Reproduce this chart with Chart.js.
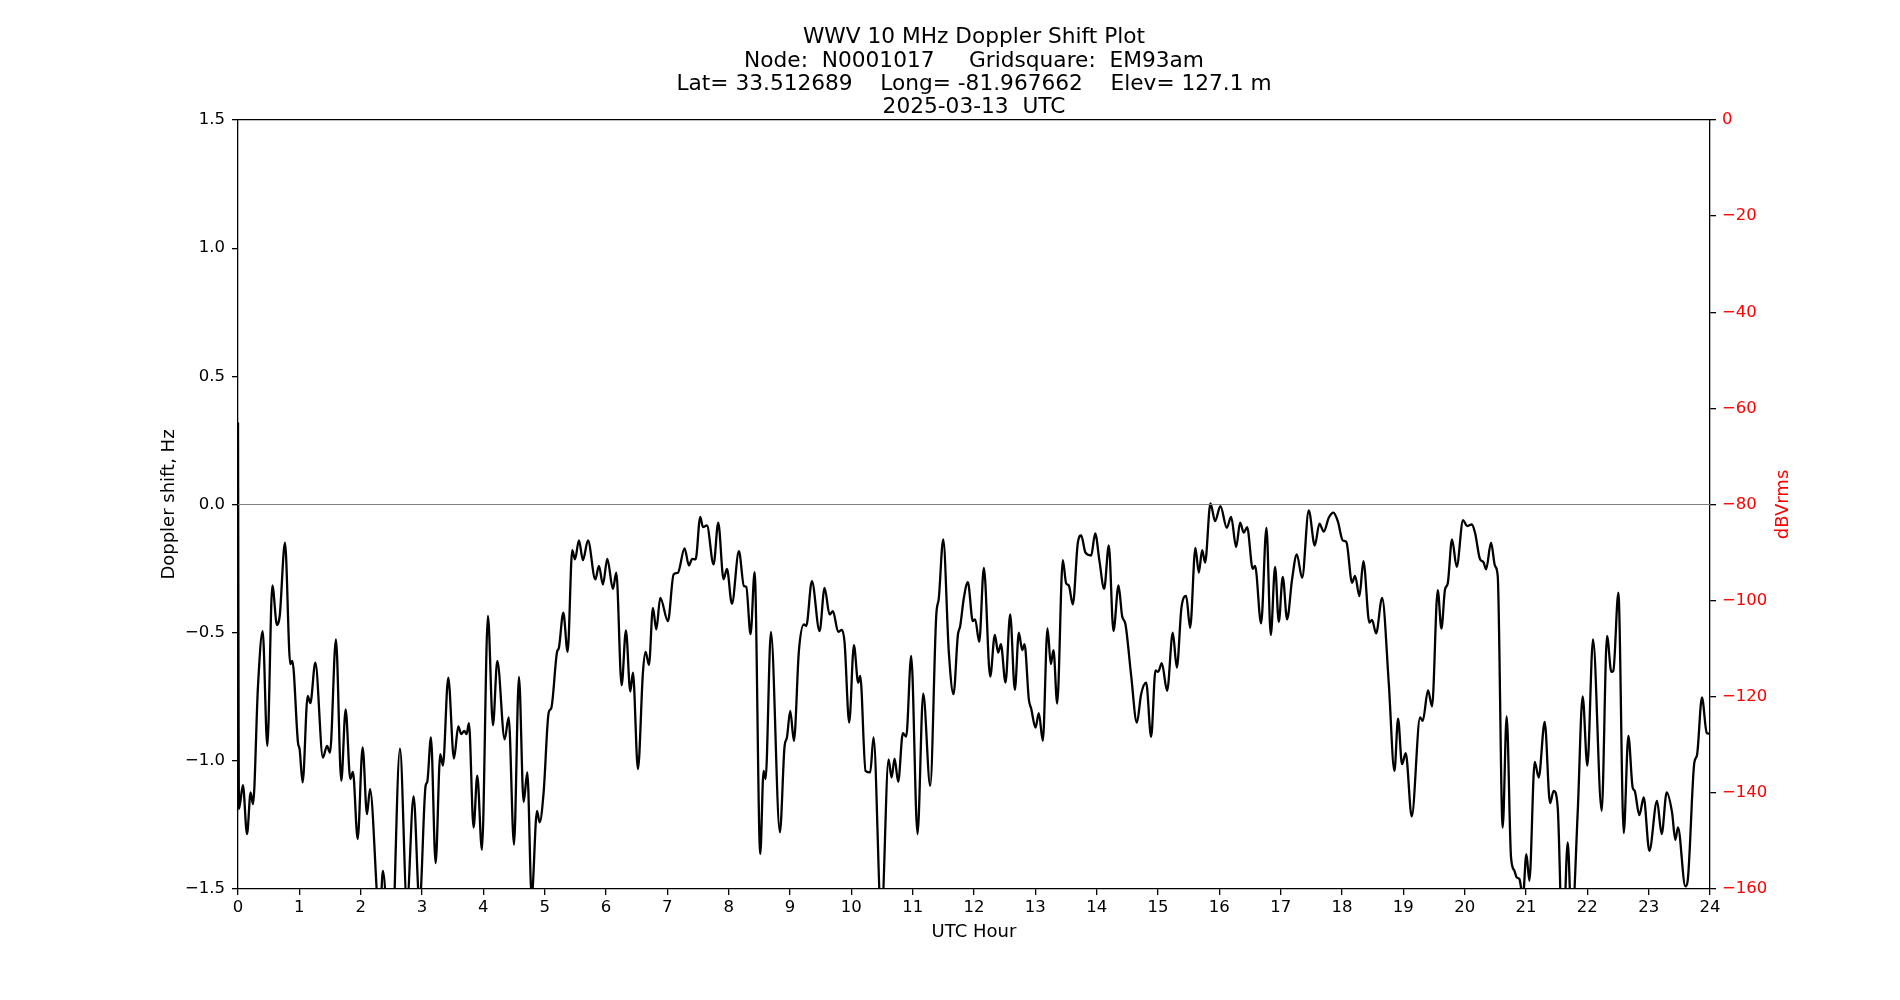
<!DOCTYPE html>
<html>
<head>
<meta charset="utf-8">
<script src="https://cdn.jsdelivr.net/npm/chart.js@4.4.1/dist/chart.umd.min.js"></script>
<style>
html,body{margin:0;padding:0;background:#fff;}
#wrap{width:1900px;height:1000px;}
</style>
</head>
<body>
<div id="wrap"><canvas id="c" width="1900" height="1000"></canvas></div>
<script>
const titleLines = [
  'WWV 10 MHz Doppler Shift Plot',
  'Node:  N0001017     Gridsquare:  EM93am',
  'Lat= 33.512689    Long= -81.967662    Elev= 127.1 m',
  '2025-03-13  UTC'
];
const xTitle = 'UTC Hour';
const yTitle = 'Doppler shift, Hz';
const y1Title = 'dBVrms';

const xTickLabels = ['0','1','2','3','4','5','6','7','8','9','10','11','12','13','14','15','16','17','18','19','20','21','22','23','24'];
const yTickLabels = ['\u22121.5','\u22121.0','\u22120.5','0.0','0.5','1.0','1.5'];
const y1TickLabels = ['\u2212160','\u2212140','\u2212120','\u2212100','\u221280','\u221260','\u221240','\u221220','0'];

const hours = [
0.000,0.016,0.080,0.147,0.206,0.245,0.326,0.402,0.478,0.560,0.636,0.680,0.766,0.853,0.886,0.978,1.005,1.054,1.136,1.179,1.261,1.385,1.451,1.500,1.597,1.684,1.755,1.831,1.874,1.951,2.032,2.103,2.152,2.310,2.363,2.490,2.641,2.755,2.863,2.960,3.059,3.086,3.146,3.222,3.298,3.341,3.428,3.521,3.592,3.640,3.689,3.727,3.765,3.841,3.901,3.977,4.075,
4.157,4.228,4.348,4.413,4.500,4.581,4.657,4.717,4.788,4.875,4.918,4.983,5.065,5.108,5.200,5.233,5.304,5.374,5.450,5.494,5.559,5.624,5.706,5.826,5.885,5.950,6.021,6.113,6.168,6.255,6.325,6.396,6.439,6.521,6.602,6.646,6.700,6.765,6.820,6.885,7.010,7.102,7.173,7.281,7.352,7.406,7.461,7.537,7.580,7.646,7.754,7.830,7.917,7.972,
8.053,8.167,8.249,8.287,8.357,8.423,8.515,8.569,8.602,8.689,8.835,8.912,8.950,9.004,9.064,9.145,9.227,9.265,9.357,9.482,9.564,9.645,9.700,9.786,9.846,9.890,9.965,10.042,10.112,10.145,10.232,10.308,10.362,10.490,10.607,10.656,10.705,10.764,10.840,10.895,10.976,11.079,11.172,11.286,11.384,11.427,11.498,11.590,11.666,11.737,11.775,11.835,11.900,
11.981,12.019,12.085,12.161,12.264,12.340,12.394,12.438,12.514,12.590,12.666,12.731,12.786,12.824,12.894,12.932,13.003,13.057,13.122,13.198,13.253,13.296,13.356,13.448,13.503,13.546,13.611,13.693,13.747,13.818,13.910,13.976,14.046,14.122,14.198,14.274,14.356,14.415,14.470,14.563,14.655,14.725,14.807,14.888,14.959,15.002,15.062,15.149,15.241,15.307,15.382,15.459,15.524,15.610,15.665,15.720,15.768,
15.855,15.931,16.018,16.122,16.192,16.274,16.339,16.399,16.453,16.545,16.583,16.681,16.768,16.839,16.909,16.969,17.034,17.105,17.186,17.263,17.350,17.458,17.556,17.632,17.703,17.784,17.860,17.931,18.012,18.072,18.164,18.213,18.284,18.349,18.447,18.490,18.556,18.654,18.762,18.855,18.914,18.979,19.039,19.137,19.273,19.316,19.403,19.468,19.561,19.621,19.680,
19.724,19.794,19.870,19.974,20.039,20.115,20.169,20.251,20.305,20.349,20.430,20.495,20.539,20.620,20.685,20.756,20.811,20.849,20.892,20.950,21.006,21.055,21.142,21.207,21.305,21.392,21.452,21.517,21.600,21.680,21.745,21.843,21.924,22.000,22.093,22.234,22.321,22.392,22.424,22.506,22.593,22.669,22.739,22.772,22.848,22.919,23.011,23.136,23.212,23.294,23.381,23.435,23.478,23.598,23.636,23.745,23.788,23.869,23.946,23.990
];

const doppler = [
0.32,-1.188,-1.095,-1.286,-1.123,-1.169,-0.708,-0.494,-0.942,-0.316,-0.470,-0.435,-0.149,-0.623,-0.610,-0.929,-0.955,-1.084,-0.747,-0.775,-0.617,-0.987,-0.942,-0.968,-0.526,-1.078,-0.799,-1.071,-1.043,-1.305,-0.948,-1.208,-1.110,-1.620,-1.429,-1.850,-0.952,-1.560,-1.139,-1.560,-1.097,-1.082,-0.909,-1.399,-0.974,-1.019,-0.675,-0.991,-0.866,-0.896,-0.883,-0.896,-0.853,-1.260,-1.058,-1.347,-0.435,
-0.861,-0.610,-0.916,-0.831,-1.327,-0.673,-1.160,-1.045,-1.530,-1.195,-1.240,-1.123,-0.812,-0.794,-0.578,-0.558,-0.422,-0.575,-0.178,-0.214,-0.140,-0.217,-0.140,-0.292,-0.240,-0.312,-0.212,-0.329,-0.266,-0.705,-0.491,-0.730,-0.656,-1.032,-0.656,-0.575,-0.626,-0.403,-0.487,-0.364,-0.455,-0.273,-0.266,-0.171,-0.238,-0.212,-0.214,-0.048,-0.088,-0.082,-0.234,-0.071,-0.292,-0.251,
-0.387,-0.182,-0.318,-0.321,-0.506,-0.264,-1.364,-1.039,-1.071,-0.497,-1.279,-0.942,-0.909,-0.805,-0.922,-0.571,-0.468,-0.474,-0.299,-0.494,-0.325,-0.429,-0.416,-0.497,-0.489,-0.539,-0.851,-0.549,-0.695,-0.669,-1.039,-1.045,-0.909,-1.620,-0.994,-1.065,-0.991,-1.082,-0.892,-0.905,-0.591,-1.286,-0.738,-1.097,-0.435,-0.364,-0.136,-0.578,-0.740,-0.510,-0.474,-0.364,-0.303,
-0.455,-0.448,-0.536,-0.247,-0.671,-0.509,-0.578,-0.545,-0.695,-0.429,-0.723,-0.500,-0.568,-0.545,-0.760,-0.796,-0.870,-0.814,-0.922,-0.483,-0.623,-0.568,-0.777,-0.217,-0.308,-0.316,-0.390,-0.149,-0.121,-0.188,-0.199,-0.113,-0.221,-0.329,-0.160,-0.494,-0.316,-0.435,-0.468,-0.669,-0.851,-0.740,-0.695,-0.906,-0.647,-0.653,-0.619,-0.727,-0.500,-0.636,-0.403,-0.357,-0.481,-0.169,-0.266,-0.178,-0.227,
0.004,-0.065,-0.006,-0.091,-0.048,-0.166,-0.071,-0.110,-0.088,-0.251,-0.240,-0.464,-0.091,-0.509,-0.243,-0.458,-0.282,-0.448,-0.292,-0.195,-0.286,-0.023,-0.160,-0.075,-0.106,-0.052,-0.032,-0.065,-0.140,-0.147,-0.305,-0.279,-0.357,-0.221,-0.461,-0.450,-0.503,-0.364,-0.695,-1.039,-0.835,-1.013,-0.970,-1.217,-0.831,-0.844,-0.725,-0.788,-0.334,-0.484,-0.331,
-0.308,-0.136,-0.243,-0.061,-0.084,-0.078,-0.110,-0.214,-0.224,-0.253,-0.149,-0.240,-0.279,-1.260,-0.827,-1.377,-1.429,-1.455,-1.461,-1.530,-1.364,-1.468,-1.004,-1.065,-0.848,-1.165,-1.117,-1.182,-1.750,-1.318,-1.650,-1.201,-0.749,-1.019,-0.526,-1.195,-0.513,-0.653,-0.649,-0.344,-1.282,-0.903,-1.104,-1.117,-1.212,-1.143,-1.351,-1.156,-1.286,-1.123,-1.201,-1.308,-1.260,-1.490,-1.468,-1.006,-0.978,-0.753,-0.890,-0.894
];

const zeroLineX = [0, 24];
const zeroLineY = [0, 0];

const FONT = 'DejaVu Sans';
const tickFont = {family: FONT, size: 16.5};
const labelFont = {family: FONT, size: 18};

const rightLabel = {
  id: 'rightLabel',
  afterDraw(chart) {
    const ctx = chart.ctx;
    const ca = chart.chartArea;
    ctx.save();
    ctx.translate(1783, (ca.top + ca.bottom) / 2);
    ctx.rotate(-Math.PI / 2);
    ctx.font = '18px "' + FONT + '"';
    ctx.fillStyle = '#ff0000';
    ctx.textAlign = 'center';
    ctx.textBaseline = 'middle';
    ctx.fillText(y1Title, 0, 0);
    ctx.restore();
  }
};

new Chart(document.getElementById('c'), {
  type: 'line',
  data: {
    datasets: [
      {
        label: 'zero',
        data: zeroLineX.map((x, i) => ({x: x, y: zeroLineY[i]})),
        borderColor: '#808080',
        borderWidth: 1.2,
        pointRadius: 0,
        xAxisID: 'x',
        yAxisID: 'y',
        clip: 0
      },
      {
        label: 'Doppler',
        data: hours.map((h, i) => ({x: h, y: doppler[i]})),
        borderColor: '#000000',
        borderWidth: 2.3,
        pointRadius: 0,
        cubicInterpolationMode: 'monotone',
        xAxisID: 'x',
        yAxisID: 'y',
        clip: 0
      }
    ]
  },
  options: {
    responsive: false,
    animation: false,
    devicePixelRatio: 1,
    layout: {padding: {left: 0, right: 0, top: 0, bottom: 0}},
    plugins: {
      legend: {display: false},
      tooltip: {enabled: false},
      title: {
        display: true,
        text: titleLines,
        fullSize: false,
        color: '#000',
        font: {family: FONT, size: 21.7, weight: 'normal', lineHeight: '23.3px'},
        padding: {top: 26, bottom: 0.8}
      }
    },
    scales: {
      x: {
        type: 'linear',
        position: 'bottom',
        min: 0, max: 24,
        afterFit(s) { s.height = 111; },
        ticks: {
          stepSize: 1,
          autoSkip: false,
          maxRotation: 0,
          color: '#000',
          font: tickFont,
          padding: 3,
          callback: (v, i) => xTickLabels[i]
        },
        grid: {display: true, drawOnChartArea: false, drawTicks: true, tickLength: 6, color: '#000', lineWidth: 1.3},
        border: {display: true, color: '#000', width: 1.3},
        title: {display: true, text: xTitle, color: '#000', font: labelFont, padding: {top: 0, bottom: 56.5}}
      },
      x2: {
        type: 'linear',
        position: 'top',
        min: 0, max: 24,
        ticks: {display: false},
        grid: {display: false, drawTicks: false},
        border: {display: true, color: '#000', width: 1.3}
      },
      y: {
        type: 'linear',
        position: 'left',
        min: -1.5, max: 1.5,
        afterFit(s) { s.width = 238; },
        ticks: {
          stepSize: 0.5,
          autoSkip: false,
          color: '#000',
          font: tickFont,
          padding: 7,
          callback: (v, i) => yTickLabels[i]
        },
        grid: {display: true, drawOnChartArea: false, drawTicks: true, tickLength: 6, color: '#000', lineWidth: 1.3},
        border: {display: true, color: '#000', width: 1.3},
        title: {display: true, text: yTitle, color: '#000', font: labelFont, padding: {top: 158.5, bottom: 0}}
      },
      y1: {
        type: 'linear',
        position: 'right',
        min: -160, max: 0,
        afterFit(s) { s.width = 190; },
        ticks: {
          stepSize: 20,
          autoSkip: false,
          color: '#ff0000',
          font: tickFont,
          padding: 6,
          callback: (v, i) => y1TickLabels[i]
        },
        grid: {display: true, drawOnChartArea: false, drawTicks: true, tickLength: 6, color: '#000', lineWidth: 1.3},
        border: {display: true, color: '#000', width: 1.3}
      }
    }
  },
  plugins: [rightLabel]
});
</script>
</body>
</html>
